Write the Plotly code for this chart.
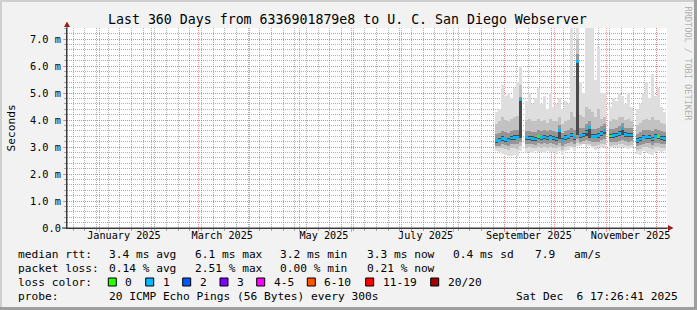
import numpy as np
import pandas as pd
import plotly.graph_objects as go

nan = float("nan")

# ---------------- data ----------------
range_start = "2024-12-12 08:00"
range_end = "2025-12-07 08:00"
first_bin = "2025-08-27 01:00"
bin_days = 1.8

median = [3.23, 3.25, 3.32, 3.27, 3.25, 3.33, 3.35, 3.36, 4.74, nan,
          3.34, 3.33, 3.31, 3.30, 3.38, 3.34, 3.37, 3.33, 3.36, 3.33,
          3.30, 3.62, 3.25, 3.35, 3.38, 3.44, 3.34, 6.16, 3.42, 3.45,
          3.56, 3.72, 3.40, 3.40, 3.43, 3.50, 3.62, nan, 3.41, 3.43,
          3.44, 3.50, 3.68, 3.46, 3.44, 3.45, nan, 3.24, 3.30, 3.36,
          3.38, 3.37, 3.30, 3.40, 3.38, 3.33, 3.32]
loss = [1, 1, 1, 1, 1, 1, 1, 1, 1, 1,
        1, 1, 1, 1, 0, 1, 1, 1, 1, 1,
        1, 1, 1, 1, 1, 1, 1, 1, 1, 1,
        1, 1, 1, 1, 1, 1, 1, 1, 0, 1,
        1, 1, 1, 1, 1, 1, 1, 1, 1, 1,
        1, 1, 1, 1, 0, 1, 1]
rtt_max = [4.3, 4.4, 5.3, 4.9, 5.0, 4.8, 5.2, 5.4, 6.0, nan,
           4.7, 5.0, 4.6, 4.8, 5.2, 4.6, 4.9, 4.4, 5.0, 4.5,
           4.6, 4.8, 4.4, 4.7, 4.6, 7.5, 5.6, 7.5, 5.4, 5.0,
           7.5, 7.5, 7.5, 5.5, 6.7, 5.0, 5.0, nan, 4.5, 4.8,
           4.7, 5.0, 4.9, 4.6, 5.0, 4.5, nan, 4.4, 4.6, 5.0,
           5.4, 4.8, 5.7, 4.9, 5.2, 4.5, 4.3]
rtt_min = [2.85, 2.80, 2.75, 2.70, 2.65, 2.68, 2.70, 2.66, 2.85, nan,
           2.80, 2.83, 2.78, 2.85, 2.82, 2.80, 2.78, 2.85, 2.80, 2.82,
           2.75, 2.85, 2.72, 2.85, 2.90, 2.95, 2.85, 3.05, 3.05, 3.10,
           3.05, 3.05, 2.95, 2.90, 3.00, 2.95, 3.00, nan, 2.95, 3.00,
           3.00, 2.95, 3.00, 2.98, 2.92, 2.95, nan, 2.75, 2.70, 2.85,
           2.80, 2.75, 2.70, 2.80, 2.85, 2.82, 2.85]
p90 = [3.85, 3.95, 4.10, 4.00, 3.95, 4.05, 4.10, 4.15, 5.30, nan,
       4.00, 4.05, 3.95, 3.95, 4.05, 3.95, 4.00, 3.90, 4.05, 3.95,
       3.95, 4.10, 3.85, 3.95, 4.00, 4.30, 4.10, 7.00, 4.20, 4.10,
       4.50, 4.40, 4.30, 4.10, 4.40, 4.05, 4.10, nan, 3.95, 4.05,
       4.00, 4.10, 4.10, 4.00, 4.05, 3.95, nan, 3.80, 3.90, 4.00,
       4.05, 4.00, 4.10, 4.00, 4.00, 3.90, 3.85]
p75 = [3.50, 3.52, 3.60, 3.55, 3.52, 3.60, 3.62, 3.64, 4.85, nan,
       3.60, 3.60, 3.57, 3.56, 3.64, 3.60, 3.63, 3.58, 3.62, 3.58,
       3.56, 3.80, 3.52, 3.60, 3.64, 3.72, 3.62, 6.45, 3.70, 3.72,
       3.85, 3.95, 3.68, 3.66, 3.70, 3.76, 3.85, nan, 3.66, 3.68,
       3.70, 3.76, 3.90, 3.72, 3.70, 3.70, nan, 3.50, 3.56, 3.62,
       3.64, 3.63, 3.58, 3.66, 3.64, 3.58, 3.56]
p60 = [3.31, 3.33, 3.40, 3.35, 3.33, 3.41, 3.43, 3.44, 4.70, nan,
       3.42, 3.41, 3.39, 3.38, 3.46, 3.42, 3.45, 3.41, 3.44, 3.41,
       3.38, 3.66, 3.33, 3.43, 3.46, 3.52, 3.42, 6.10, 3.50, 3.53,
       3.64, 3.74, 3.48, 3.48, 3.51, 3.58, 3.66, nan, 3.49, 3.51,
       3.52, 3.58, 3.70, 3.54, 3.52, 3.53, nan, 3.32, 3.38, 3.44,
       3.46, 3.45, 3.38, 3.48, 3.46, 3.41, 3.40]
p40 = [3.15, 3.17, 3.24, 3.19, 3.17, 3.25, 3.27, 3.28, 3.35, nan,
       3.26, 3.25, 3.23, 3.22, 3.30, 3.26, 3.29, 3.25, 3.28, 3.25,
       3.22, 3.30, 3.17, 3.27, 3.30, 3.36, 3.26, 3.45, 3.34, 3.37,
       3.40, 3.35, 3.32, 3.32, 3.35, 3.42, 3.50, nan, 3.33, 3.35,
       3.36, 3.42, 3.45, 3.38, 3.36, 3.37, nan, 3.16, 3.22, 3.28,
       3.30, 3.29, 3.22, 3.32, 3.30, 3.25, 3.24]
p25 = [3.05, 3.05, 3.10, 3.06, 3.04, 3.10, 3.12, 3.12, 3.20, nan,
       3.12, 3.12, 3.10, 3.08, 3.15, 3.12, 3.14, 3.10, 3.13, 3.10,
       3.08, 3.15, 3.02, 3.12, 3.15, 3.20, 3.12, 3.30, 3.20, 3.22,
       3.25, 3.22, 3.18, 3.18, 3.20, 3.25, 3.30, nan, 3.18, 3.20,
       3.20, 3.24, 3.26, 3.22, 3.20, 3.21, nan, 3.02, 3.08, 3.12,
       3.14, 3.13, 3.08, 3.16, 3.14, 3.10, 3.10]
p10 = [2.95, 2.95, 2.95, 2.92, 2.90, 2.95, 2.95, 2.93, 3.05, nan,
       2.98, 3.00, 2.97, 2.97, 3.00, 2.98, 3.00, 2.98, 3.00, 2.98,
       2.95, 3.00, 2.90, 3.00, 3.02, 3.05, 3.00, 3.15, 3.10, 3.12,
       3.12, 3.10, 3.05, 3.05, 3.08, 3.10, 3.12, nan, 3.05, 3.08,
       3.08, 3.10, 3.10, 3.08, 3.05, 3.06, nan, 2.90, 2.93, 3.00,
       3.00, 2.98, 2.92, 3.00, 3.00, 2.97, 2.98]

y_tickvals = [0, 1, 2, 3, 4, 5, 6, 7]
y_ticktext = ["0.0", "1.0 m", "2.0 m", "3.0 m", "4.0 m", "5.0 m", "6.0 m", "7.0 m"]
x_label_dates = ["2025-01-15 12:00", "2025-03-15 12:00", "2025-05-15 12:00",
                 "2025-07-15 12:00", "2025-09-15 12:00", "2025-11-15 12:00"]
x_label_text = ["January 2025", "March 2025", "May 2025",
                "July 2025", "September 2025", "November 2025"]
title_text = "Last 360 Days from 6336901879e8 to U. C. San Diego Webserver"
y_title = "Seconds"
median_label = "median rtt:"
median_stats = ["3.4 ms avg", "6.1 ms max", "3.2 ms min", "3.3 ms now", "0.4 ms sd", "7.9", "am/s"]
loss_label = "packet loss:"
loss_stats = ["0.14 % avg", "2.51 % max", "0.00 % min", "0.21 % now"]
color_label = "loss color:"
loss_labels = ["0", "1", "2", "3", "4-5", "6-10", "11-19", "20/20"]
loss_colors = ["#26ff00", "#00b8ff", "#0059ff", "#7e00ff", "#ff00ff", "#ff5500", "#ff0000", "#a10000"]
probe_label = "probe:"
probe_text = "20 ICMP Echo Pings (56 Bytes) every 300s"
date_text = "Sat Dec\u00a0\u00a06 17:26:41 2025"
watermark = "RRDTOOL / TOBI OETIKER"

# ---------------- geometry ----------------
FW, FH = 697, 310
L, R, T, B = 67, 30, 28, 82
PW, PH = FW - L - R, FH - T - B
FONT = "DejaVu Sans Mono"


def px(x):
    return (x - L) / PW


def py(y):
    return (T + PH - y) / PH


times = pd.date_range(pd.Timestamp(first_bin), periods=len(median), freq=pd.Timedelta(days=bin_days))
bin_ms = bin_days * 86400000
month_starts = pd.date_range("2025-01-01", "2025-12-01", freq="MS")
week_starts = pd.date_range("2024-12-16", "2025-12-07", freq="7D")


def band(lo, hi, color):
    lo = np.array(lo, dtype=float)
    hi = np.array(hi, dtype=float)
    return go.Bar(x=times, base=lo, y=hi - lo, width=bin_ms,
                  marker=dict(color=color, line=dict(width=0)),
                  hoverinfo="skip", showlegend=False)


fig = go.Figure()
fig.add_trace(band(rtt_min, rtt_max, "#dedede"))
fig.add_trace(band(p10, p90, "#c2c2c2"))
fig.add_trace(band(p25, p75, "#959595"))
fig.add_trace(band(p40, p60, "#4a4a4a"))
med = np.array(median, dtype=float)
line_h = np.where(np.isnan(med), np.nan, 0.1)
fig.add_trace(go.Bar(x=times, base=med - 0.05, y=line_h, width=bin_ms,
                     marker=dict(color=[loss_colors[k] for k in loss], line=dict(width=0)),
                     hoverinfo="skip", showlegend=False))
# dummy trace to carry the label axis
fig.add_trace(go.Scatter(x=[range_start, range_end], y=[None, None], xaxis="x2",
                         mode="lines", hoverinfo="skip", showlegend=False))

grid_red = "rgba(238,120,120,0.75)"
grid_gray = "rgba(110,110,110,0.55)"
axis_col = "#3a3a3a"

fig.update_layout(
    width=FW, height=FH,
    margin=dict(l=L, r=R, t=T, b=B, pad=0),
    paper_bgcolor="#f2f2f2", plot_bgcolor="#ffffff",
    barmode="overlay", bargap=0, showlegend=False,
    font=dict(family=FONT, size=11, color="#000000"),
    xaxis=dict(type="date", range=[range_start, range_end],
               tickmode="array", tickvals=list(month_starts), showticklabels=False,
               showgrid=True, gridcolor=grid_red, griddash="1px,1px", gridwidth=1,
               ticks="outside", ticklen=3, tickcolor=grid_red,
               showline=True, linecolor=axis_col, linewidth=1, zeroline=False,
               minor=dict(tickmode="array", tickvals=list(week_starts), showgrid=True,
                          gridcolor=grid_gray, griddash="1px,1px", gridwidth=1,
                          ticks="outside", ticklen=2, tickcolor=grid_gray),
               fixedrange=True),
    xaxis2=dict(type="date", range=[range_start, range_end], overlaying="x", anchor="y",
                side="bottom", tickmode="array", tickvals=x_label_dates, ticktext=x_label_text,
                ticks="", showgrid=False, showline=False, zeroline=False,
                tickfont=dict(family=FONT, size=10.2, color="#000000")),
    yaxis=dict(range=[0, PH / 27.0], tickmode="array", tickvals=y_tickvals, ticktext=y_ticktext,
               tickfont=dict(family=FONT, size=10.3, color="#000000"),
               showgrid=True, gridcolor=grid_red, griddash="1px,1px", gridwidth=1,
               ticks="outside", ticklen=3, tickcolor=grid_red,
               showline=True, linecolor=axis_col, linewidth=1, zeroline=False,
               minor=dict(dtick=0.2, tick0=0, showgrid=True, gridcolor=grid_gray,
                          griddash="1px,1px", gridwidth=1, ticks="outside", ticklen=2,
                          tickcolor=grid_gray),
               fixedrange=True),
)

shapes = []
# image border shading
shapes.append(dict(type="rect", xref="paper", yref="paper", x0=px(0), x1=px(FW), y0=py(0), y1=py(2),
                   fillcolor="#cfcfcf", line=dict(width=0), layer="below"))
shapes.append(dict(type="rect", xref="paper", yref="paper", x0=px(0), x1=px(2), y0=py(0), y1=py(FH),
                   fillcolor="#cfcfcf", line=dict(width=0), layer="below"))
shapes.append(dict(type="rect", xref="paper", yref="paper", x0=px(FW - 3), x1=px(FW), y0=py(0), y1=py(FH),
                   fillcolor="#9e9e9e", line=dict(width=0), layer="below"))
shapes.append(dict(type="rect", xref="paper", yref="paper", x0=px(0), x1=px(FW), y0=py(FH - 3), y1=py(FH),
                   fillcolor="#9e9e9e", line=dict(width=0), layer="below"))
# axis extensions and arrows
shapes.append(dict(type="line", xref="paper", yref="paper", x0=px(67), x1=px(67), y0=py(228), y1=py(24),
                   line=dict(color=axis_col, width=1)))
shapes.append(dict(type="line", xref="paper", yref="paper", x0=px(62), x1=px(669), y0=py(228), y1=py(228),
                   line=dict(color=axis_col, width=1)))
shapes.append(dict(type="path", xref="paper", yref="paper",
                   path=f"M {px(64)} {py(27)} L {px(70)} {py(27)} L {px(67)} {py(21.5)} Z",
                   fillcolor="#9b1c1c", line=dict(width=0)))
shapes.append(dict(type="path", xref="paper", yref="paper",
                   path=f"M {px(668)} {py(225)} L {px(668)} {py(231)} L {px(673.5)} {py(228)} Z",
                   fillcolor="#9b1c1c", line=dict(width=0)))

ann = []


def text(t, x, y, size=11.2, anchor="left", color="#000000", angle=0, yanchor="middle"):
    ann.append(dict(text=t, x=px(x), y=py(y), xref="paper", yref="paper", showarrow=False,
                    xanchor=anchor, yanchor=yanchor, textangle=angle,
                    font=dict(family=FONT, size=size, color=color)))


text(title_text, 347.5, 19.5, size=13.25, anchor="center")
text(y_title, 10.5, 128, size=11.2, anchor="center", angle=-90)
text(watermark, 687, 4, size=8.6, anchor="center", color="#b4b4b4", angle=90, yanchor="top")

col_x = [107.3, 193.3, 278.3, 365, 451, 533.3, 571.7]
row_y = [254.5, 268.5, 282, 296]
text(median_label, 16, row_y[0])
for s, x in zip(median_stats, col_x):
    text(s, x, row_y[0])
text(loss_label, 16, row_y[1])
for s, x in zip(loss_stats, col_x):
    text(s, x, row_y[1])
text(color_label, 16, row_y[2])
box_x = [108.3, 145.7, 182.7, 220, 256.7, 307.3, 365.7, 430.7]
for lab, col, bx in zip(loss_labels, loss_colors, box_x):
    shapes.append(dict(type="rect", xref="paper", yref="paper", x0=px(bx), x1=px(bx + 8),
                       y0=py(row_y[2] + 4), y1=py(row_y[2] - 4),
                       fillcolor=col, line=dict(color="#000000", width=1)))
    text(lab, bx + 15, row_y[2])
text(probe_label, 16, row_y[3])
text(probe_text, 107.3, row_y[3])
text(date_text, 680, row_y[3], anchor="right")

fig.update_layout(shapes=shapes, annotations=ann)
fig.write_html("out.html")
